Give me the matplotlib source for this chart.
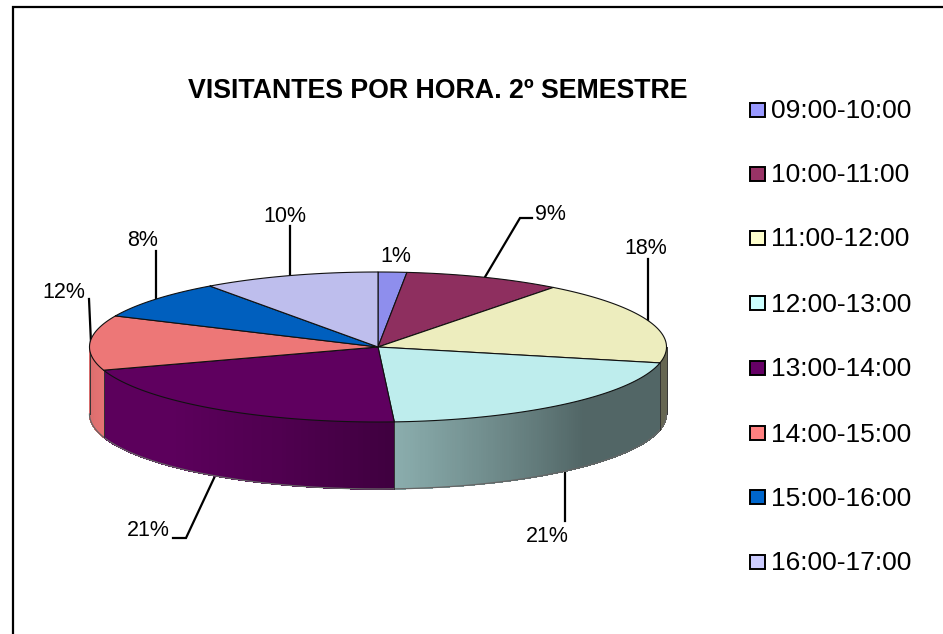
import matplotlib
matplotlib.use("Agg")
import matplotlib.pyplot as plt
import numpy as np
from matplotlib.patches import Polygon, Rectangle

plt.rcParams['font.family'] = ['Liberation Sans', 'DejaVu Sans']

hours = ["09:00-10:00", "10:00-11:00", "11:00-12:00", "12:00-13:00",
         "13:00-14:00", "14:00-15:00", "15:00-16:00", "16:00-17:00"]
shares = [1.6, 8.8, 18.0, 20.7, 20.9, 11.8, 8.3, 9.9]
pct_labels = ["1%", "9%", "18%", "21%", "21%", "12%", "8%", "10%"]
colors = ["#9999FF", "#993366", "#FFFFCC", "#CCFFFF",
          "#660066", "#FF8080", "#0066CC", "#CCCCFF"]

# pie geometry, in pixels
cx, cy = 378, 347
rx, ry = 288.5, 75
depth = 67
top_dim = 0.93

# where the labels and their leader lines go
label_pos = [(396, 257), (550, 215), (646, 248), (547, 536),
             (148, 531), (64, 292), (143, 241), (285, 217)]
leaders = [None,
           [(485, 277), (520, 218), (532, 218)],
           [(648, 322), (648, 259)],
           [(565, 472), (565, 521)],
           [(215, 476), (186, 538), (173, 538)],
           [(91, 343), (89, 299)],
           [(156, 300), (156, 251)],
           [(290, 276), (290, 226)]]

legend_y = [110, 174, 238, 303, 368, 433, 497, 562]


def rim(deg):
    t = np.radians(deg)
    return cx + rx * np.sin(t), cy - ry * np.cos(t)


def side_shade(deg):
    return np.interp(deg, [90, 135, 176.8, 177, 200, 225, 252, 270],
                     [0.40, 0.40, 0.68, 0.62, 0.78, 0.90, 0.90, 0.84])


def scaled(color, k):
    return tuple(np.array(matplotlib.colors.to_rgb(color)) * k)


fig = plt.figure(figsize=(9.43, 6.34), dpi=100)
ax = fig.add_axes([0, 0, 1, 1])
ax.set_xlim(0, 943)
ax.set_ylim(634, 0)
ax.axis("off")

ax.plot([943, 13, 13], [7, 7, 634], color="black", lw=1.6, solid_joinstyle="miter")

ends = np.cumsum(shares) / np.sum(shares) * 360
starts = np.concatenate([[0], ends[:-1]])

# front wall first, no antialias on the strips or they show seams
for a, b, c in zip(starts, ends, colors):
    lo, hi = max(a, 90), min(b, 270)
    if lo >= hi:
        continue
    steps = np.linspace(lo, hi, int(hi - lo) * 2 + 2)
    for s0, s1 in zip(steps[:-1], steps[1:]):
        x0, y0 = rim(s0)
        x1, y1 = rim(s1)
        col = scaled(c, side_shade((s0 + s1) / 2))
        ax.add_patch(Polygon([(x0, y0), (x1, y1), (x1, y1 + depth), (x0, y0 + depth)],
                             fc=col, ec=col, lw=0.5, antialiased=False, zorder=2))
    xs, ys = rim(steps)
    ax.plot(xs, ys + depth, color="#666666", lw=0.9, zorder=3)
    for s in (lo, hi):
        x, y = rim(s)
        ax.plot([x, x], [y, y + depth], color="#333333", lw=0.7, zorder=3)

# top face
for a, b, c in zip(starts, ends, colors):
    xs, ys = rim(np.linspace(a, b, 120))
    pts = np.column_stack([np.r_[cx, xs], np.r_[cy, ys]])
    ax.add_patch(Polygon(pts, closed=True, fc=scaled(c, top_dim), ec="#111111",
                         lw=0.8, joinstyle="round", zorder=4))

# percent labels
for txt, (x, y), line in zip(pct_labels, label_pos, leaders):
    ax.text(x, y, txt, fontsize=15.5, ha="center", va="center", color="black")
    if line is not None:
        lx, ly = zip(*line)
        ax.plot(lx, ly, color="black", lw=1.6, zorder=1, solid_joinstyle="miter")

ax.text(437.5, 90.5, "VISITANTES POR HORA. 2º SEMESTRE", fontsize=19.3,
        fontweight="bold", ha="center", va="center")

# legend
for name, c, y in zip(hours, colors, legend_y):
    ax.add_patch(Rectangle((750, y - 7), 15, 14, fc=c, ec="black", lw=1.4))
    ax.text(771, y + 1.5, name, fontsize=19, ha="left", va="center")

fig.savefig("out.png", dpi=100)
